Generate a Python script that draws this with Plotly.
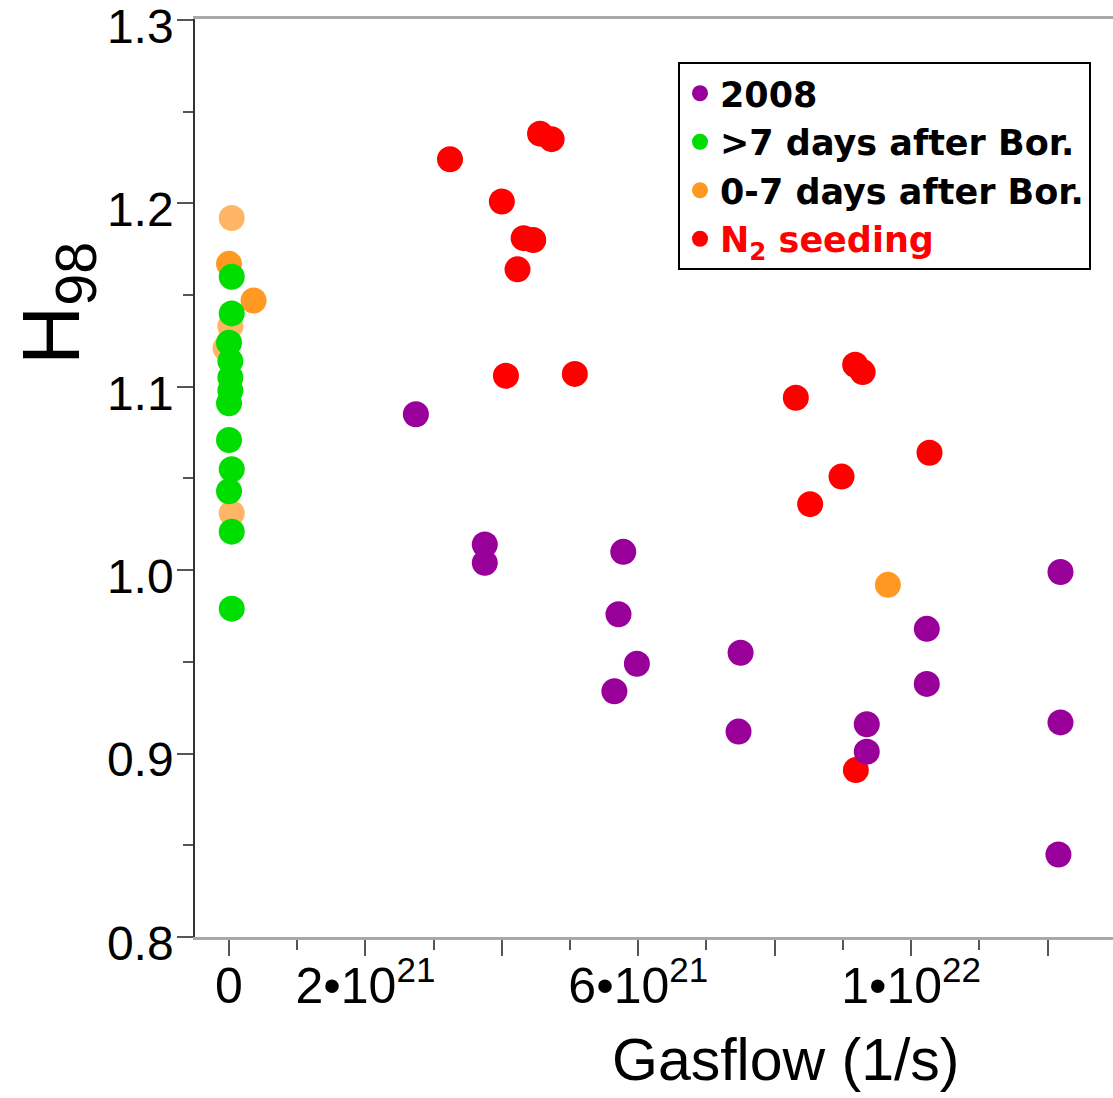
import plotly.graph_objects as go

# ---- data (gas flow in 1/s, H98) ----
x_2008 = [2.74e21, 3.75e21, 3.75e21, 5.78e21, 5.71e21, 5.98e21, 5.65e21, 7.50e21,
          7.47e21, 9.35e21, 9.35e21, 10.23e21, 10.23e21, 12.19e21, 12.19e21, 12.16e21]
y_2008 = [1.085, 1.014, 1.004, 1.010, 0.976, 0.949, 0.934, 0.955,
          0.912, 0.916, 0.901, 0.968, 0.938, 0.999, 0.917, 0.845]

x_gt7 = [0.04e21, 0.04e21, 0.0, 0.02e21, 0.02e21, 0.02e21, 0.0, 0.0,
         0.04e21, 0.0, 0.04e21, 0.04e21]
y_gt7 = [1.160, 1.140, 1.124, 1.114, 1.105, 1.098, 1.091, 1.071,
         1.055, 1.043, 1.021, 0.979]

x_07 = [0.0, 0.36e21, 9.66e21]
y_07 = [1.167, 1.147, 0.992]

x_07_light = [0.04e21, 0.02e21, -0.05e21, 0.04e21]
y_07_light = [1.192, 1.133, 1.121, 1.031]

x_n2 = [3.24e21, 4.56e21, 4.73e21, 4.00e21, 4.32e21, 4.46e21, 4.23e21, 4.06e21,
        5.07e21, 9.18e21, 9.29e21, 8.31e21, 10.27e21, 8.98e21, 8.52e21, 9.19e21]
y_n2 = [1.224, 1.238, 1.235, 1.201, 1.181, 1.180, 1.164, 1.106,
        1.107, 1.112, 1.108, 1.094, 1.064, 1.051, 1.036, 0.891]

x_major_ticks = [0, 2e21, 4e21, 6e21, 8e21, 10e21, 12e21]
x_major_text = ["0", "2•10<sup>21</sup>", "", "6•10<sup>21</sup>", "", "1•10<sup>22</sup>", ""]
x_minor_ticks = [1e21, 3e21, 5e21, 7e21, 9e21, 11e21]
y_ticks = [0.8, 0.9, 1.0, 1.1, 1.2, 1.3]
y_tick_text = ["0.8", "0.9", "1.0", "1.1", "1.2", "1.3"]

FONT = "Liberation Sans, Arial, sans-serif"
LEG_FONT = "DejaVu Sans, sans-serif"
MS = 26
XR = [-0.4985e21, 12.96e21]

fig = go.Figure()
fig.add_trace(go.Scatter(x=x_07_light, y=y_07_light, mode="markers", showlegend=False,
                         marker=dict(size=MS, color="#FFB566", line=dict(width=0))))
fig.add_trace(go.Scatter(x=x_07, y=y_07, mode="markers", name="0-7 days after Bor.",
                         legendrank=3,
                         marker=dict(size=MS, color="#FF9922", line=dict(width=0))))
fig.add_trace(go.Scatter(x=x_n2, y=y_n2, mode="markers", legendrank=4,
                         name="<span style='color:#FF0000'>N<sub>2</sub> seeding</span>",
                         marker=dict(size=MS, color="#FF0000", line=dict(width=0))))
fig.add_trace(go.Scatter(x=x_gt7, y=y_gt7, mode="markers", name=">7 days after Bor.",
                         legendrank=2,
                         marker=dict(size=MS, color="#00DD00", line=dict(width=0))))
fig.add_trace(go.Scatter(x=x_2008, y=y_2008, mode="markers", name="2008",
                         legendrank=1,
                         marker=dict(size=MS, color="#990099", line=dict(width=0))))

fig.update_layout(
    width=1113, height=1098,
    margin=dict(l=195, r=0, t=19, b=161, autoexpand=False),
    paper_bgcolor="white", plot_bgcolor="white",
    font=dict(family=FONT, color="black"),
    showlegend=True,
    legend=dict(
        x=(678 - 195) / 918, y=1 - (62 - 19) / 918, xanchor="left", yanchor="top",
        bordercolor="black", borderwidth=2, bgcolor="white",
        font=dict(family=LEG_FONT, size=35, color="black", weight="bold"),
        traceorder="normal", itemsizing="trace",
        tracegroupgap=0,
    ),
    xaxis=dict(
        range=XR, automargin=False,
        showgrid=False, zeroline=False,
        showline=True, linecolor="#A8A8A8", linewidth=3, mirror=True,
        ticks="outside", ticklen=16, tickwidth=1.5, tickcolor="#555555",
        tickmode="array", tickvals=x_major_ticks, ticktext=x_major_text,
        tickfont=dict(family=FONT, size=50, color="black"),
        ticklabelstandoff=-13,
        minor=dict(tickmode="array", tickvals=x_minor_ticks, ticks="outside",
                   ticklen=10, tickwidth=1.5, tickcolor="#555555"),
    ),
    yaxis=dict(
        range=[0.8, 1.3005], automargin=False,
        showgrid=False, zeroline=False,
        showline=True, linecolor="#333333", linewidth=1.5,
        ticks="outside", ticklen=16, tickwidth=1.5, tickcolor="#555555",
        tickmode="array", tickvals=y_ticks, ticktext=y_tick_text,
        tickfont=dict(family=FONT, size=48, color="black"),
        ticklabelstandoff=-6, ticklabelshift=6, ticklabeloverflow="allow",
        minor=dict(tickmode="linear", tick0=0.75, dtick=0.1, ticks="outside",
                   ticklen=10, tickwidth=1.5, tickcolor="#555555"),
    ),
    annotations=[
        dict(text="Gasflow (1/s)", xref="paper", yref="paper",
             x=(786 - 195) / 918, y=-(1060 - 937) / 918,
             xanchor="center", yanchor="middle", showarrow=False,
             font=dict(family=FONT, size=59, color="black")),
        dict(text="H<sub>98</sub>", xref="paper", yref="paper",
             x=-(195 - 56) / 918, y=1 - (304 - 19) / 918,
             xanchor="center", yanchor="middle", showarrow=False, textangle=-90,
             font=dict(family=FONT, size=82, color="black")),
    ],
)

fig.write_html("out.html", config={"displayModeBar": False},
               post_script="document.body.style.margin='0';document.body.style.overflow='hidden';")
